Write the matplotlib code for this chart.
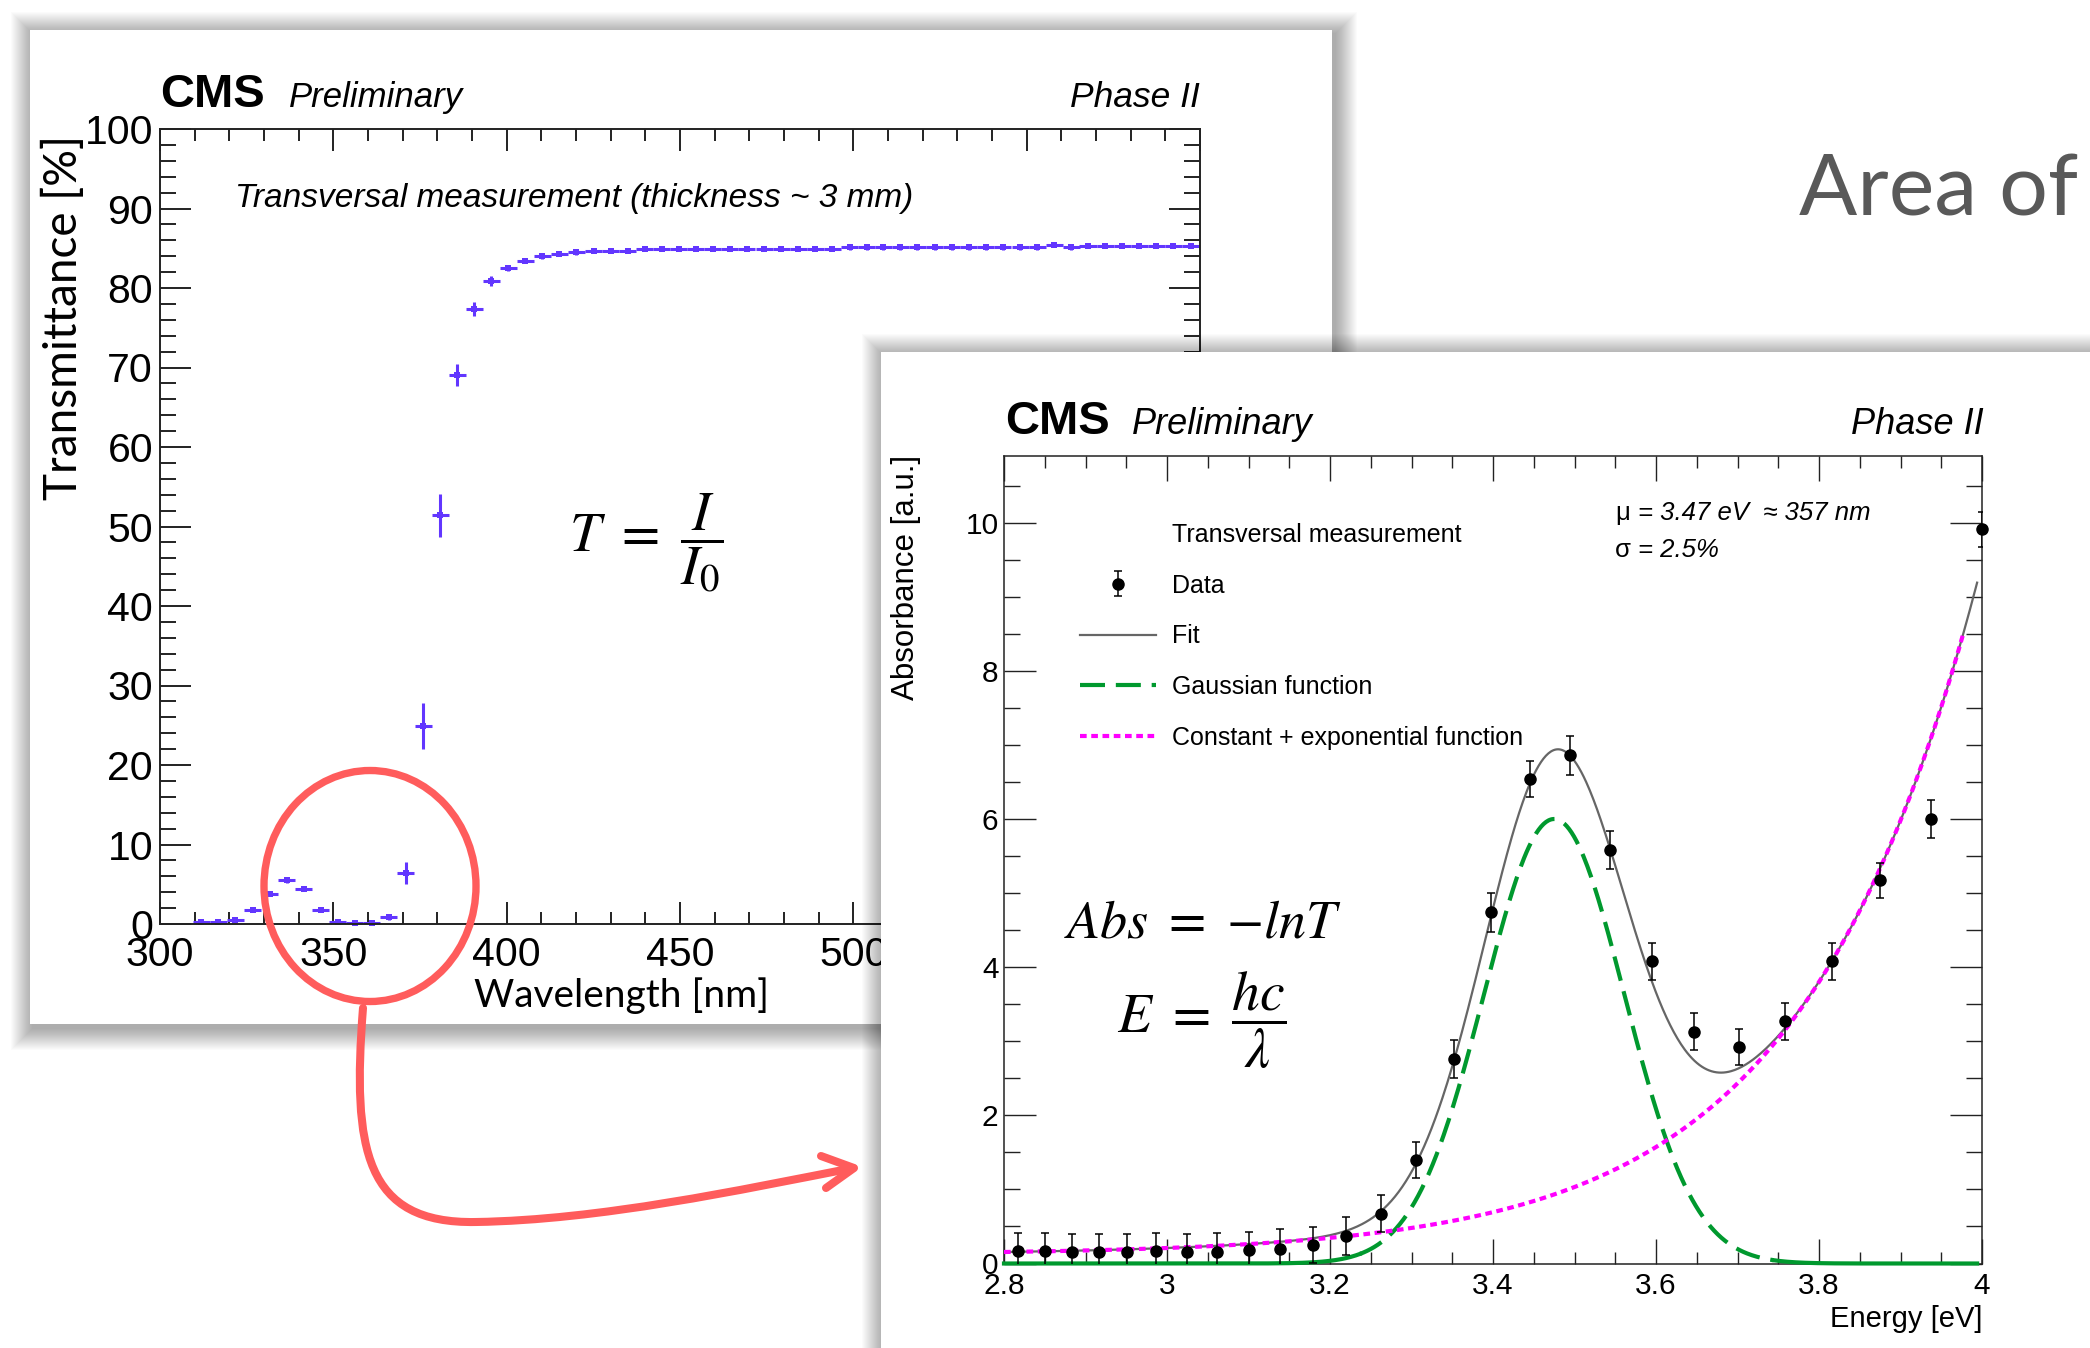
import numpy as np
import matplotlib
matplotlib.use('Agg')
import matplotlib.pyplot as plt
from matplotlib.patches import Rectangle, Ellipse, PathPatch
from matplotlib.path import Path
from matplotlib.lines import Line2D
from matplotlib.ticker import MultipleLocator

plt.rcParams['mathtext.fontset'] = 'stix'
plt.rcParams['font.family'] = ['Liberation Sans', 'DejaVu Sans']

W, H = 2090, 1348

# ---------------- data : transmittance (left chart) ----------------
wavelength_nm = [311.9, 316.8, 321.7, 326.7, 331.6, 336.5, 341.4, 346.3, 351.3, 356.2,
                 361.1, 366.0, 370.9, 375.9, 380.8, 385.7, 390.6, 395.5, 400.5, 405.4,
                 410.3, 415.2, 420.1, 425.1, 430.0, 434.9, 439.8, 444.7, 449.7, 454.6,
                 459.5, 464.4, 469.3, 474.3, 479.2, 484.1, 489.0, 493.9, 498.9, 503.8,
                 508.7, 513.6, 518.5, 523.5, 528.4, 533.3, 538.2, 543.1, 548.1, 553.0,
                 557.9, 562.8, 567.7, 572.7, 577.6, 582.5, 587.4, 592.3, 597.3]
transmittance = [0.2, 0.3, 0.5, 1.8, 3.8, 5.5, 4.4, 1.8, 0.3, 0.1,
                 0.1, 0.9, 6.4, 24.9, 51.4, 69.1, 77.4, 80.9, 82.5, 83.4,
                 84.0, 84.3, 84.5, 84.7, 84.7, 84.7, 84.9, 84.9, 84.9, 84.9,
                 84.9, 84.9, 84.9, 84.9, 84.9, 84.9, 84.9, 84.9, 85.1, 85.1,
                 85.1, 85.1, 85.1, 85.1, 85.1, 85.1, 85.1, 85.1, 85.1, 85.1,
                 85.4, 85.1, 85.3, 85.3, 85.3, 85.3, 85.3, 85.3, 85.3]
transmittance_err = [0.3, 0.3, 0.3, 0.3, 0.3, 0.3, 0.3, 0.3, 0.3, 0.3,
                     0.3, 0.4, 1.4, 2.9, 2.7, 1.4, 0.9, 0.6, 0.4, 0.3,
                     0.3, 0.3, 0.3, 0.3, 0.3, 0.3, 0.3, 0.3, 0.3, 0.3,
                     0.3, 0.3, 0.3, 0.3, 0.3, 0.3, 0.3, 0.3, 0.3, 0.3,
                     0.3, 0.3, 0.3, 0.3, 0.3, 0.3, 0.3, 0.3, 0.3, 0.3,
                     0.3, 0.3, 0.3, 0.3, 0.3, 0.3, 0.3, 0.3, 0.3]
bin_half_width_nm = 2.46

left_xticks = [300, 350, 400, 450, 500, 550, 600]
left_xticklabels = ['300', '350', '400', '450', '500', '550', '600']
left_yticks = [0, 10, 20, 30, 40, 50, 60, 70, 80, 90, 100]
left_yticklabels = ['0', '10', '20', '30', '40', '50', '60', '70', '80', '90', '100']

# ---------------- data : absorbance (right chart) ----------------
energy_eV = [2.817, 2.850, 2.883, 2.916, 2.951, 2.986, 3.024, 3.061, 3.100, 3.139,
             3.179, 3.220, 3.262, 3.306, 3.352, 3.397, 3.445, 3.494, 3.543, 3.595,
             3.647, 3.702, 3.758, 3.816, 3.875, 3.937, 4.000]
absorbance = [0.17, 0.17, 0.16, 0.16, 0.16, 0.17, 0.15, 0.16, 0.18, 0.20,
              0.25, 0.37, 0.67, 1.40, 2.76, 4.74, 6.54, 6.86, 5.58, 4.08,
              3.13, 2.92, 3.27, 4.08, 5.17, 6.00, 9.91]
absorbance_err = [0.24, 0.24, 0.24, 0.24, 0.24, 0.24, 0.25, 0.25, 0.25, 0.27,
                  0.24, 0.26, 0.25, 0.24, 0.26, 0.26, 0.24, 0.26, 0.26, 0.25,
                  0.25, 0.24, 0.25, 0.25, 0.24, 0.25, 0.24]

right_xticks = [2.8, 3.0, 3.2, 3.4, 3.6, 3.8, 4.0]
right_xticklabels = ['2.8', '3', '3.2', '3.4', '3.6', '3.8', '4']
right_yticks = [0, 2, 4, 6, 8, 10]
right_yticklabels = ['0', '2', '4', '6', '8', '10']

# fitted model parameters (Gaussian + constant + exponential)
gauss_amp = 6.0
gauss_mu = 3.475
gauss_sigma = 0.086          # ~2.5 % of mu
bkg_const = 0.12
bkg_amp = 3.68
bkg_slope = 4.65
bkg_ref = 3.8
fit_range = (2.8, 3.994)
bkg_range = (2.8, 3.978)
gauss_dashed_range = (3.235, 3.745)

# ---------------- figure helpers ----------------
fig = plt.figure(figsize=(W / 100, H / 100), dpi=100)
fig.patch.set_facecolor('white')


def rect(x0, y0, x1, y1):
    return [x0 / W, 1 - y1 / H, (x1 - x0) / W, (y1 - y0) / H]


def canvas(z):
    a = fig.add_axes([0, 0, 1, 1], zorder=z)
    a.set_xlim(0, W)
    a.set_ylim(H, 0)
    a.axis('off')
    return a


def ftext(ax, x, y, s, **kw):
    return ax.text(x / W, 1 - y / H, s, transform=fig.transFigure, **kw)


def panel(ax, x0, y0, x1, y1):
    for k in range(22, 0, -1):
        ax.add_patch(Rectangle((x0 - k + 3, y0 - k + 4), x1 - x0 + 2 * k, y1 - y0 + 2 * k,
                               fc='black', ec='none', alpha=0.016))
    ax.add_patch(Rectangle((x0, y0), x1 - x0, y1 - y0, fc='white', ec='none'))


ROOT = ['Liberation Sans', 'DejaVu Sans']
SLIDE = ['Lato', 'DejaVu Sans']
violet = '#6236FF'

# ---------------- left panel ----------------
bg1 = canvas(0)
panel(bg1, 30, 30, 1332, 1024)

axL = fig.add_axes(rect(160, 129, 1200, 924), zorder=1)
axL.patch.set_visible(False)
cL = axL.errorbar(wavelength_nm, transmittance, xerr=bin_half_width_nm, yerr=transmittance_err,
                  fmt='s', ms=5, color=violet, ecolor=violet, elinewidth=2.2, capsize=0, mew=0)
cL.lines[0].set_clip_on(False)
axL.set_xlim(300, 600)
axL.set_ylim(0, 100)
axL.set_xticks(left_xticks)
axL.set_xticklabels(left_xticklabels)
axL.set_yticks(left_yticks)
axL.set_yticklabels(left_yticklabels)
axL.xaxis.set_minor_locator(MultipleLocator(10))
axL.yaxis.set_minor_locator(MultipleLocator(2))
axL.tick_params(which='both', direction='in', top=True, right=True, width=1.4, color='#222222')
axL.tick_params(axis='x', which='major', length=16, pad=9, labelsize=29.5)
axL.tick_params(axis='x', which='minor', length=8.6)
axL.tick_params(axis='y', which='major', length=22, pad=5, labelsize=29.5)
axL.tick_params(axis='y', which='minor', length=11.5)
for s in axL.spines.values():
    s.set_linewidth(1.4)
    s.set_color('#222222')
# tick labels lying under the overlapping right-hand panel are covered in the slide
for tick_value, lab in zip(left_xticks, axL.get_xticklabels()):
    if tick_value > 520:
        lab.set_visible(False)

ftext(axL, 160, 107, 'CMS', fontsize=34, fontweight='bold', family=ROOT, va='baseline', ha='left')
ftext(axL, 289, 107, 'Preliminary', fontsize=25, style='italic', family=ROOT, va='baseline', ha='left')
ftext(axL, 1200, 107, 'Phase II', fontsize=25.5, style='italic', family=ROOT, va='baseline', ha='right')
ftext(axL, 235, 207, 'Transversal measurement (thickness ~ 3 mm)', fontsize=24, style='italic',
      family=ROOT, va='baseline', ha='left')
ftext(axL, 63, 318, 'Transmittance [%]', fontsize=33, family=SLIDE, rotation=90, ha='center', va='center')
ftext(axL, 474, 1007, 'Wavelength [nm]', fontsize=28, family=SLIDE, ha='left', va='baseline')
ftext(axL, 646, 543, r'$T\ =\ \dfrac{I}{I_0}$', fontsize=40, ha='center', va='center')

# ---------------- right panel ----------------
bg2 = canvas(2)
panel(bg2, 881, 352, W + 60, H + 60)

axR = fig.add_axes(rect(1004, 456, 1982, 1263.5), zorder=3)
axR.patch.set_visible(False)

E_fit = np.linspace(fit_range[0], fit_range[1], 800)
gauss = gauss_amp * np.exp(-0.5 * ((E_fit - gauss_mu) / gauss_sigma) ** 2)
bkg = bkg_const + bkg_amp * np.exp(bkg_slope * (E_fit - bkg_ref))
fit = gauss + bkg

h_fit, = axR.plot(E_fit, fit, color='#666666', lw=1.6, zorder=2)
in_dash = (E_fit >= gauss_dashed_range[0]) & (E_fit <= gauss_dashed_range[1])
h_gauss, = axR.plot(E_fit[in_dash], gauss[in_dash], color='#00992E', lw=3.0,
                    dashes=(6, 2.6), zorder=3, clip_on=False)
left_tail = E_fit <= gauss_dashed_range[0] + 0.002
right_tail = E_fit >= gauss_dashed_range[1] - 0.002
axR.plot(E_fit[left_tail], gauss[left_tail], color='#00992E', lw=3.0, zorder=3, clip_on=False)
axR.plot(E_fit[right_tail], gauss[right_tail], color='#00992E', lw=3.0, zorder=3, clip_on=False)
in_bkg = E_fit <= bkg_range[1]
h_bkg, = axR.plot(E_fit[in_bkg], bkg[in_bkg], color='#FF00FF', lw=3.0, dashes=(1.6, 1.1), zorder=4)

cR = axR.errorbar(energy_eV, absorbance, yerr=absorbance_err, fmt='o', ms=8, color='black',
                  ecolor='black', elinewidth=1.1, capsize=3.2, capthick=1.1, zorder=5)
cR.lines[0].set_clip_on(False)

axR.set_xlim(2.8, 4.0)
axR.set_ylim(0, 10.9)
axR.set_xticks(right_xticks)
axR.set_xticklabels(right_xticklabels)
axR.set_yticks(right_yticks)
axR.set_yticklabels(right_yticklabels)
axR.xaxis.set_minor_locator(MultipleLocator(0.05))
axR.yaxis.set_minor_locator(MultipleLocator(0.5))
axR.tick_params(which='both', direction='in', top=True, right=True, width=1.0, color='#222222')
axR.tick_params(axis='x', which='major', length=18, pad=6, labelsize=21.5)
axR.tick_params(axis='x', which='minor', length=8.6)
axR.tick_params(axis='y', which='major', length=23, pad=4, labelsize=21.5)
axR.tick_params(axis='y', which='minor', length=11.5)
for s in axR.spines.values():
    s.set_linewidth(1.1)
    s.set_color('#222222')

h_head = Line2D([], [], linestyle='none')
leg = axR.legend([h_head, cR, h_fit, h_gauss, h_bkg],
                 ['Transversal measurement', 'Data', 'Fit', 'Gaussian function',
                  'Constant + exponential function'],
                 loc='upper left', bbox_to_anchor=(1080 / W, 1 - 523 / H),
                 bbox_transform=fig.transFigure, frameon=False, borderpad=0, borderaxespad=0,
                 handlelength=3.04, handletextpad=0.64, labelspacing=1.07,
                 prop={'family': ROOT, 'size': 18})

ftext(axR, 1005, 434.5, 'CMS', fontsize=34, fontweight='bold', family=ROOT, va='baseline', ha='left')
ftext(axR, 1132, 434.5, 'Preliminary', fontsize=26, style='italic', family=ROOT, va='baseline', ha='left')
ftext(axR, 1984, 434.5, 'Phase II', fontsize=26, style='italic', family=ROOT, va='baseline', ha='right')
ftext(axR, 1615, 513, 'μ', fontsize=18.5, family=ROOT, va='center', ha='left')
ftext(axR, 1638, 513, '= 3.47 eV  ≈ 357 nm', fontsize=18.5, style='italic', family=ROOT, va='center', ha='left')
ftext(axR, 1615, 550, 'σ', fontsize=18.5, family=ROOT, va='center', ha='left')
ftext(axR, 1638, 550, '= 2.5%', fontsize=18.5, style='italic', family=ROOT, va='center', ha='left')
ftext(axR, 1982, 1327, 'Energy [eV]', fontsize=21, family=ROOT, ha='right', va='baseline')
ftext(axR, 906, 455, 'Absorbance [a.u.]', fontsize=22.5, family=ROOT, rotation=90, ha='center', va='top')
ftext(axR, 1064, 923, r'$Abs\ =\ {-}lnT$', fontsize=39, ha='left', va='center')
ftext(axR, 1117, 1020, r'$E\ =\ \dfrac{hc}{\lambda}$', fontsize=40, ha='left', va='center')

# ---------------- slide overlay ----------------
ov = canvas(10)
red = '#FF5C5C'
ov.add_patch(Ellipse((370, 886), 212, 231, fill=False, ec=red, lw=5.3))
arrow_path = Path([(363, 1008), (352, 1150), (365, 1224), (476, 1222),
                   (600, 1220), (740, 1190), (853, 1168)],
                  [Path.MOVETO, Path.CURVE4, Path.CURVE4, Path.CURVE4,
                   Path.CURVE4, Path.CURVE4, Path.CURVE4])
ov.add_patch(PathPatch(arrow_path, fill=False, ec=red, lw=5.8, capstyle='round'))
head_path = Path([(821, 1156), (854, 1168), (826, 1188)], [Path.MOVETO, Path.LINETO, Path.LINETO])
ov.add_patch(PathPatch(head_path, fill=False, ec=red, lw=5.8, capstyle='round', joinstyle='round'))
ov.text(1799, 215, 'Area of', fontsize=62, family=SLIDE, color='#595959', ha='left', va='baseline')

fig.savefig('out.png', dpi=100)
